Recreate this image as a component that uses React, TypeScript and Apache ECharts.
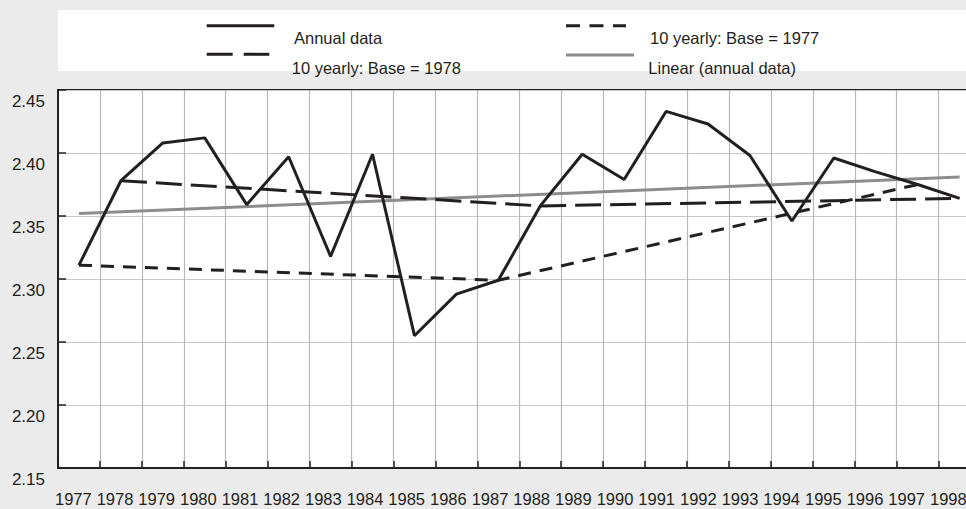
import React, { useEffect, useRef } from "react";
import * as echarts from "echarts";

const years = [
  "1977", "1978", "1979", "1980", "1981", "1982", "1983", "1984", "1985", "1986", "1987",
  "1988", "1989", "1990", "1991", "1992", "1993", "1994", "1995", "1996", "1997", "1998",
];

const annualData = [
  2.311, 2.378, 2.408, 2.412, 2.359, 2.397, 2.318, 2.399, 2.255, 2.288, 2.299,
  2.358, 2.399, 2.379, 2.433, 2.423, 2.398, 2.346, 2.396, 2.385, 2.375, 2.364,
];

const base1978Years = ["1978", "1988", "1998"];
const base1978Values = [2.378, 2.358, 2.364];

const base1977Years = ["1977", "1987", "1997"];
const base1977Values = [2.311, 2.299, 2.375];

const linearYears = ["1977", "1998"];
const linearValues = [2.352, 2.381];

const yTicks = [2.15, 2.2, 2.25, 2.3, 2.35, 2.4, 2.45];

const legendNames = ["Annual data", "10 yearly: Base = 1978", "10 yearly: Base = 1977", "Linear (annual data)"];

const INK = "#231f20";
const FONT = "'Liberation Sans', Arial, sans-serif";

export default function App() {
  const ref = useRef<HTMLDivElement>(null);

  useEffect(() => {
    if (!ref.current) return;
    const chart = echarts.init(ref.current, undefined, { renderer: "svg" });
    const pairs = (ys: string[], vs: number[]) => ys.map((y, i) => [y, vs[i]]);

    const option: any = {
      animation: false,
      backgroundColor: "#ebebeb",
      textStyle: { fontFamily: FONT },
      grid: [
        {
          left: 58,
          top: 90,
          width: 922.6,
          height: 378,
          outerBoundsMode: "none",
          containLabel: false,
          show: true,
          backgroundColor: "#ffffff",
          borderColor: INK,
          borderWidth: 2,
        },
        {
          left: 52.5,
          top: 90,
          width: 916.7,
          height: 378,
          outerBoundsMode: "none",
          containLabel: false,
          show: false,
        },
      ],
      xAxis: [
        {
          type: "category",
          gridIndex: 0,
          data: years,
          boundaryGap: true,
          axisLine: { show: true, lineStyle: { color: INK, width: 2 } },
          axisTick: { show: true, inside: true, length: 7, lineStyle: { color: INK, width: 1.5 } },
          axisLabel: { show: false },
          splitLine: { show: true, lineStyle: { color: "#b8b8b8", width: 1.2 } },
        },
        {
          type: "category",
          gridIndex: 1,
          data: years,
          boundaryGap: true,
          axisLine: { show: false },
          axisTick: { show: false },
          splitLine: { show: false },
          axisLabel: {
            show: true,
            interval: 0,
            color: INK,
            fontSize: 16.5,
            fontFamily: FONT,
            margin: 24,
            lineHeight: 14,
            verticalAlign: "top",
            hideOverlap: false,
          },
        },
      ],
      yAxis: [
        {
          type: "value",
          gridIndex: 0,
          min: yTicks[0],
          max: yTicks[yTicks.length - 1],
          interval: 0.05,
          axisLine: { show: true, lineStyle: { color: INK, width: 2 } },
          axisTick: { show: true, inside: true, length: 8, lineStyle: { color: INK, width: 1.5 } },
          splitLine: { show: true, lineStyle: { color: "#c8c8c8", width: 1.2 } },
          axisLabel: {
            show: true,
            color: INK,
            fontSize: 17,
            fontFamily: FONT,
            margin: 13,
            verticalAlign: "top",
            lineHeight: 22,
            formatter: (v: number) => v.toFixed(2),
          },
        },
        {
          type: "value",
          gridIndex: 1,
          min: yTicks[0],
          max: yTicks[yTicks.length - 1],
          show: false,
        },
      ],
      series: [
        {
          name: legendNames[3],
          type: "line",
          xAxisIndex: 0,
          yAxisIndex: 0,
          data: pairs(linearYears, linearValues),
          symbol: "none",
          lineStyle: { color: "#8c8c8c", width: 3 },
          z: 2,
        },
        {
          name: legendNames[1],
          type: "line",
          xAxisIndex: 0,
          yAxisIndex: 0,
          data: pairs(base1978Years, base1978Values),
          symbol: "none",
          lineStyle: { color: INK, width: 3, type: [26, 9], cap: "butt" },
          z: 3,
        },
        {
          name: legendNames[2],
          type: "line",
          xAxisIndex: 0,
          yAxisIndex: 0,
          data: pairs(base1977Years, base1977Values),
          symbol: "none",
          lineStyle: { color: INK, width: 3, type: [13, 9], cap: "butt" },
          z: 3,
        },
        {
          name: legendNames[0],
          type: "line",
          xAxisIndex: 0,
          yAxisIndex: 0,
          data: annualData,
          symbol: "none",
          lineStyle: { color: INK, width: 3 },
          z: 4,
        },
      ],
      graphic: [
        { type: "rect", shape: { x: 58, y: 10, width: 908, height: 61 }, style: { fill: "#ffffff" }, z: 0 },
        { type: "line", shape: { x1: 206.7, y1: 25.7, x2: 274.3, y2: 25.7 }, style: { stroke: INK, lineWidth: 3 }, z: 1 },
        { type: "line", shape: { x1: 206.7, y1: 54.3, x2: 269.3, y2: 54.3 }, style: { stroke: INK, lineWidth: 3, lineDash: [26, 11] }, z: 1 },
        { type: "line", shape: { x1: 566, y1: 25.7, x2: 626, y2: 25.7 }, style: { stroke: INK, lineWidth: 3, lineDash: [14, 9.5] }, z: 1 },
        { type: "line", shape: { x1: 566, y1: 55, x2: 634, y2: 55 }, style: { stroke: "#8c8c8c", lineWidth: 3 }, z: 1 },
        { type: "text", x: 294, y: 38.3, style: { text: legendNames[0], fill: INK, font: `16.5px ${FONT}`, verticalAlign: "middle" }, z: 1 },
        { type: "text", x: 291.7, y: 68.3, style: { text: legendNames[1], fill: INK, font: `16.5px ${FONT}`, verticalAlign: "middle" }, z: 1 },
        { type: "text", x: 650, y: 38.3, style: { text: legendNames[2], fill: INK, font: `16.5px ${FONT}`, verticalAlign: "middle" }, z: 1 },
        { type: "text", x: 648.3, y: 68.3, style: { text: legendNames[3], fill: INK, font: `16.5px ${FONT}`, verticalAlign: "middle" }, z: 1 },
      ],
    };

    chart.setOption(option);
    return () => chart.dispose();
  }, []);

  return (
    <div
      ref={ref}
      style={{ position: "fixed", left: 0, top: 0, width: 966, height: 509, background: "#ebebeb" }}
    />
  );
}
